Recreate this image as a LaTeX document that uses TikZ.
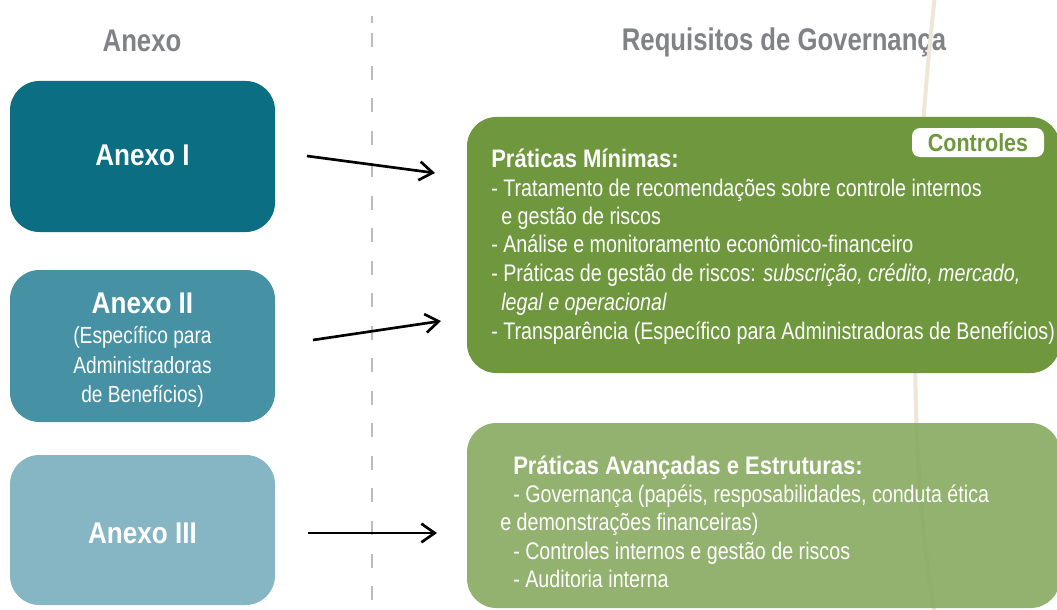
\documentclass[tikz,border=0pt]{standalone}
\usepackage{fontspec}
\setmainfont{Liberation Sans}[FakeStretch=0.82]
\newfontfamily\hfont{Liberation Sans}[FakeStretch=0.87]
\usetikzlibrary{arrows.meta}
\definecolor{anxI}{HTML}{0B6E82}
\definecolor{anxII}{HTML}{4692A4}
\definecolor{anxIII}{HTML}{86B6C3}
\definecolor{grnA}{HTML}{6E973E}
\definecolor{grnB}{HTML}{87A95F}
\definecolor{hdgray}{HTML}{808285}
\definecolor{dashgray}{HTML}{BBBDBF}
\definecolor{beige}{HTML}{EFE6D8}
\begin{document}
\begin{tikzpicture}[x=0.75pt,y=-0.75pt,
  anx/.style={rounded corners=22pt, minimum width=198.75pt, inner sep=0pt, draw=none},
  gbox/.style={rounded corners=22pt, minimum width=444.75pt, inner sep=0pt, draw=none},
  hdr/.style={font=\fontsize{23.5}{28}\selectfont\bfseries, text=hdgray, inner sep=0pt, anchor=base},
  ttl/.style={font=\hfont\fontsize{22.5}{27}\selectfont\bfseries, text=white, inner sep=0pt, anchor=base},
  sml/.style={font=\fontsize{17.5}{21}\selectfont, text=white, inner sep=0pt, anchor=base},
  bodyln/.style={font=\fontsize{18}{21}\selectfont, text=white, inner sep=0pt, anchor=base west},
  subhd/.style={font=\hfont\fontsize{19}{23}\selectfont\bfseries, text=white, inner sep=0pt, anchor=base west},
  arr/.style={line width=2pt, -{Straight Barb[length=10pt,width=14pt]}},
  dashline/.style={draw=dashgray, line width=1.9pt, dash pattern=on 10.5pt off 13.9pt}
]
\path[use as bounding box] (0,0) rectangle (1057,610);
\clip (0,0) rectangle (1057,610);

% headers
\node[hdr] (h1) at (142,52) {Anexo};
\node[hdr] (h2) at (784,51) {Requisitos de Governança};

% dashed divider
\draw[dashline] (372,33) -- (372,615);
\draw[dashline] (372,16) -- (372,23);

% faint curve
\draw[beige, line width=3pt] (935,-5) .. controls (912,200) and (905,450) .. (935,615);

% annex boxes
\node[anx, fill=anxI, minimum height=113.25pt] (a1) at (142.5,156.5) {};
\node[anx, fill=anxII, minimum height=114pt] (a2) at (142.5,346) {};
\node[anx, fill=anxIII, minimum height=112.5pt] (a3) at (142.5,530) {};

\node[ttl] (a1t) at (142.5,165) {Anexo I};
\node[ttl] (a2t) at (142.5,313) {Anexo II};
\node[sml] (a2s1) at (142.5,343) {(Específico para};
\node[sml] (a2s2) at (142.5,373) {Administradoras};
\node[sml] (a2s3) at (142.5,402) {de Benefícios)};
\node[ttl] (a3t) at (142.5,543) {Anexo III};

% green boxes
\node[gbox, fill=grnA, minimum height=192pt] (g1) at (763.5,245) {};
\node[gbox, fill=grnB, fill opacity=0.9, minimum height=138.75pt] (g2) at (763.5,515.5) {};

% Controles tag
\node[fill=white, rounded corners=6pt, minimum width=99pt, minimum height=21.75pt, inner sep=0pt,
      text=grnA, font=\hfont\fontsize{18.5}{22}\selectfont\bfseries] (tag) at (978,142.5) {Controles};

% box 1 text
\node[subhd] (p0) at (491,167) {Práticas Mínimas:};
\node[bodyln] (p1) at (491,196) {- Tratamento de recomendações sobre controle internos};
\node[bodyln] (p2) at (501,224) {e gestão de riscos};
\node[bodyln] (p3) at (491,252) {- Análise e monitoramento econômico-financeiro};
\node[bodyln] (p4) at (491,281) {- Práticas de gestão de riscos: \textit{subscrição, crédito, mercado,}};
\node[bodyln] (p5) at (501,310) {\textit{legal e operacional}};
\node[bodyln] (p6) at (491,339) {- Transparência (Específico para Administradoras de Benefícios)};

% box 2 text
\node[subhd] (q0) at (513,474) {Práticas Avançadas e Estruturas:};
\node[bodyln] (q1) at (513,502) {- Governança (papéis, resposabilidades, conduta ética};
\node[bodyln] (q2) at (500,530) {e demonstrações financeiras)};
\node[bodyln] (q3) at (513,559) {- Controles internos e gestão de riscos};
\node[bodyln] (q4) at (513,587) {- Auditoria interna};

% arrows
\coordinate (s1) at (307,156);
\coordinate (e1) at (435,173);
\coordinate (s2) at (313,340);
\coordinate (e2) at (441,321);
\coordinate (s3) at (308,533);
\coordinate (e3) at (437,533);
\draw[arr] (s1) -- (e1);
\draw[arr] (s2) -- (e2);
\draw[arr] (s3) -- (e3);
\end{tikzpicture}
\end{document}
